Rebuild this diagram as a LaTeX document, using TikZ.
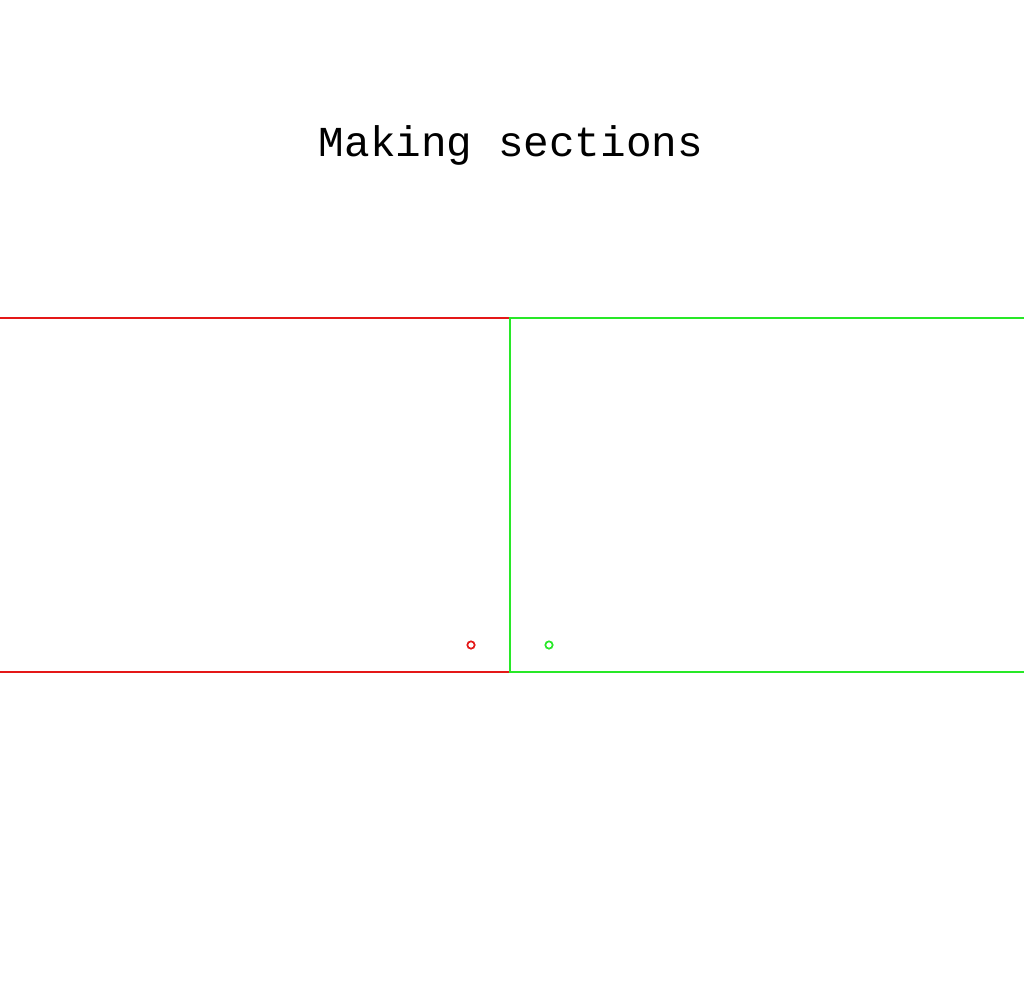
\documentclass[tikz,border=0pt]{standalone}
\usepackage{fontspec}
\newfontfamily\titlefont{Liberation Mono}
\definecolor{secred}{RGB}{228,24,24}
\definecolor{secgreen}{RGB}{40,232,40}
\tikzset{
  redsec/.style={draw=secred, line width=1.5pt},
  greensec/.style={draw=secgreen, line width=1.5pt},
  marker/.style={circle, inner sep=0pt, minimum size=5.5pt, line width=1.3pt},
}
\begin{document}
\begin{tikzpicture}[x=0.75pt,y=-0.75pt]
\useasboundingbox (0,0) rectangle (1024,1000);
\clip (0,0) rectangle (1024,1000);
\node[font=\titlefont\fontsize{32}{38}\selectfont, inner sep=0pt] (title) at (511,145) {Making sections};
\draw[redsec] (-10,318) rectangle (510,672);
\draw[greensec] (510,318) rectangle (1034,672);
\node[marker, draw=secred] (redmark) at (471,645) {};
\node[marker, draw=secgreen] (greenmark) at (549,645) {};
\end{tikzpicture}
\end{document}
